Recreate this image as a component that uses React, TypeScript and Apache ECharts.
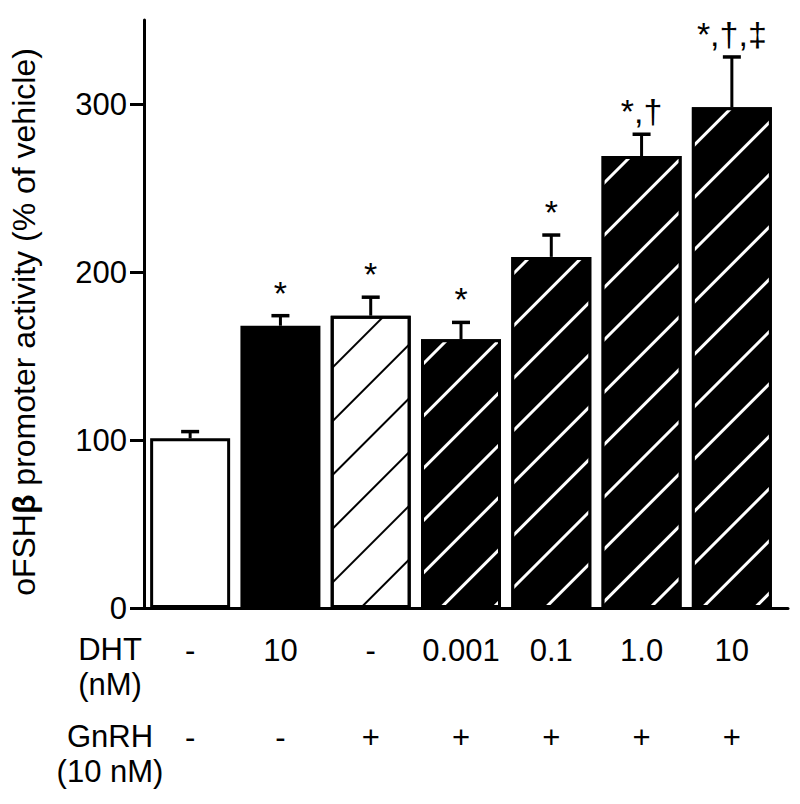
import { useEffect, useRef } from 'react';
import * as echarts from 'echarts';

const groups = [
  'Vehicle',
  'DHT 10 nM',
  'GnRH',
  'GnRH + DHT 0.001 nM',
  'GnRH + DHT 0.1 nM',
  'GnRH + DHT 1.0 nM',
  'GnRH + DHT 10 nM',
];
const dhtLabels = ['-', '10', '-', '0.001', '0.1', '1.0', '10'];
const gnrhLabels = ['-', '-', '+', '+', '+', '+', '+'];
const means = [101, 168, 174, 160, 209, 269, 298];
const errUpper = [105, 174, 185, 170, 222, 282, 328];
const sigLabels = ['', '*', '*', '*', '*', '*,†', '*,†,‡'];
const yTicks = [0, 100, 200, 300];

const FONT = '"Liberation Sans", Arial, Helvetica, sans-serif';

function styleFor(i: number) {
  const hasDht = dhtLabels[i] !== '-';
  const hasGnrh = gnrhLabels[i] === '+';
  const base: any = { borderColor: '#000', borderWidth: 3 };
  if (!hasGnrh) {
    base.color = hasDht ? '#000' : '#fff';
    return base;
  }
  if (!hasDht) {
    base.color = '#fff';
    base.decal = {
      symbol: 'rect',
      symbolSize: 1,
      dashArrayX: [1, 0],
      dashArrayY: [1.5, 35.3],
      rotation: -Math.PI / 4,
      color: '#000',
    };
    return base;
  }
  base.color = '#000';
  base.decal = {
    symbol: 'rect',
    symbolSize: 1,
    dashArrayX: [1, 0],
    dashArrayY: [3, 33.8],
    rotation: -Math.PI / 4,
    color: '#fff',
  };
  return base;
}

export default function App() {
  const ref = useRef<HTMLDivElement>(null);
  useEffect(() => {
    if (!ref.current) return;
    const chart = echarts.init(ref.current, null, { renderer: 'svg' });
    const labelStyle = {
      fontSize: 31,
      lineHeight: 36,
      color: '#000',
      fontFamily: FONT,
      margin: 24,
      interval: 0,
    };
    const option: any = {
      animation: false,
      backgroundColor: '#fff',
      grid: [
        { left: 145, right: 23, top: 20, bottom: 196 },
        { left: 137, right: 12, top: 20, bottom: 196 },
      ],
      xAxis: [
        {
          type: 'category',
          gridIndex: 0,
          data: groups,
          axisLine: { show: false },
          axisTick: { show: false },
          axisLabel: { ...labelStyle, formatter: (_v: string, i: number) => dhtLabels[i] },
        },
        {
          type: 'category',
          gridIndex: 0,
          position: 'bottom',
          offset: 87,
          data: groups,
          axisLine: { show: false },
          axisTick: { show: false },
          axisLabel: { ...labelStyle, formatter: (_v: string, i: number) => gnrhLabels[i] },
        },
        {
          type: 'value',
          gridIndex: 1,
          min: 0,
          max: 1,
          axisLine: { show: true, lineStyle: { color: '#000', width: 3 } },
          axisTick: { show: false },
          axisLabel: { show: false },
          splitLine: { show: false },
        },
      ],
      yAxis: [
        { type: 'value', gridIndex: 0, min: 0, max: 350, show: false },
        {
          type: 'value',
          gridIndex: 1,
          min: 0,
          max: 350,
          axisLine: { show: true, lineStyle: { color: '#000', width: 3 } },
          axisTick: {
            show: true,
            length: 14,
            customValues: yTicks,
            lineStyle: { color: '#000', width: 3 },
          },
          axisLabel: {
            customValues: yTicks,
            fontSize: 31,
            color: '#000',
            fontFamily: FONT,
            margin: 17,
          },
          splitLine: { show: false },
          name: '{n|oFSH}{b|β}{n| promoter activity (% of vehicle)}',
          nameLocation: 'middle',
          nameGap: 104,
          nameTextStyle: {
            color: '#000',
            fontFamily: FONT,
            fontSize: 32,
            padding: [0, 16, 0, 0],
            rich: {
              n: { fontSize: 32, fontFamily: FONT, color: '#000' },
              b: { fontSize: 32, fontFamily: FONT, color: '#000', fontWeight: 'bold' },
            },
          },
        },
      ],
      graphic: [
        {
          type: 'text',
          x: 110,
          y: 632,
          style: {
            text: 'DHT\n(nM)',
            align: 'center',
            verticalAlign: 'top',
            fontSize: 31,
            lineHeight: 35,
            fontFamily: FONT,
            fill: '#000',
          },
        },
        {
          type: 'text',
          x: 110,
          y: 719,
          style: {
            text: 'GnRH\n(10 nM)',
            align: 'center',
            verticalAlign: 'top',
            fontSize: 31,
            lineHeight: 35,
            fontFamily: FONT,
            fill: '#000',
          },
        },
      ],
      series: [
        {
          type: 'bar',
          xAxisIndex: 0,
          yAxisIndex: 0,
          barWidth: 80,
          data: means.map((v, i) => ({ value: v, itemStyle: styleFor(i) })),
        },
        {
          type: 'custom',
          xAxisIndex: 0,
          yAxisIndex: 0,
          z: 10,
          data: means.map((m, i) => [i, m, errUpper[i]]),
          renderItem: (params: any, api: any) => {
            const i = api.value(0);
            const base = api.coord([i, api.value(1)]);
            const top = api.coord([i, api.value(2)]);
            const cap = 9;
            return {
              type: 'group',
              children: [
                {
                  type: 'line',
                  shape: { x1: base[0], y1: base[1], x2: top[0], y2: top[1] },
                  style: { stroke: '#000', lineWidth: 3 },
                },
                {
                  type: 'line',
                  shape: { x1: top[0] - cap, y1: top[1], x2: top[0] + cap, y2: top[1] },
                  style: { stroke: '#000', lineWidth: 3.5 },
                },
                {
                  type: 'text',
                  x: top[0],
                  y: top[1] - 6,
                  style: {
                    text: sigLabels[params.dataIndex],
                    align: 'center',
                    verticalAlign: 'bottom',
                    textAlign: 'center',
                    textVerticalAlign: 'bottom',
                    fontSize: 34,
                    fontFamily: FONT,
                    fill: '#000',
                  },
                },
              ],
            };
          },
        },
      ],
    };
    chart.setOption(option);
    return () => chart.dispose();
  }, []);
  return (
    <div
      ref={ref}
      style={{ position: 'fixed', left: 0, top: 0, width: 800, height: 804, background: '#fff' }}
    />
  );
}
